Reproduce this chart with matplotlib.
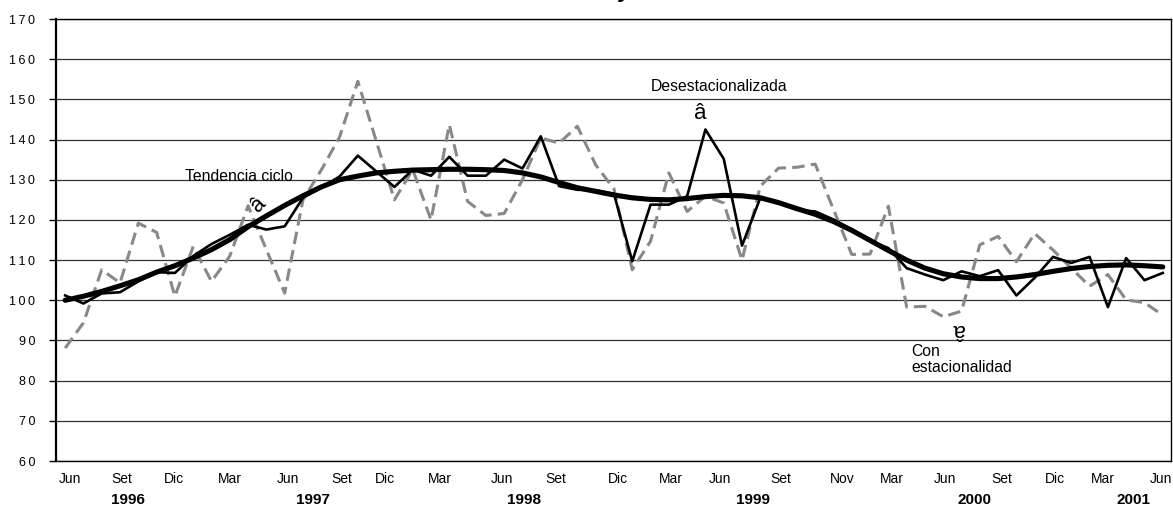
import numpy as np
import matplotlib
matplotlib.use("Agg")
from matplotlib import pyplot as plt
from matplotlib.ticker import FuncFormatter
import matplotlib.transforms as mtransforms

plt.rcParams['font.family'] = ['Liberation Sans', 'DejaVu Sans']
plt.rcParams['lines.scale_dashes'] = False

# serie mensual jun-1996 .. jun-2001
con_estacionalidad = [
    88.1, 94.4, 107.6, 104.3, 119.2, 116.9, 101.0, 113.4, 104.7, 111.0,
    123.5, 112.6, 101.8, 125.0, 132.4, 140.6, 154.5, 139.7, 125.0, 132.5,
    120.0, 143.7, 124.6, 121.1, 121.6, 130.0, 140.4, 139.1, 143.3, 133.7,
    127.7, 107.6, 114.7, 131.7, 122.1, 125.9, 124.2, 110.0, 128.4, 132.9,
    133.1, 133.9, 122.6, 111.4, 111.5, 123.4, 98.3, 98.5, 95.9, 97.3,
    113.8, 115.9, 109.6, 116.6, 112.5, 108.0, 103.5, 106.4, 100.1, 99.4,
    96.3]
desestacionalizada = [
    101.2, 99.2, 101.7, 102.0, 104.7, 107.0, 106.8, 111.0, 114.0, 116.3,
    118.8, 117.6, 118.4, 125.5, 128.0, 130.8, 136.0, 132.1, 128.2, 132.5,
    131.0, 135.7, 131.0, 131.0, 135.0, 132.8, 140.8, 128.4, 127.5, 127.4,
    126.5, 109.7, 123.8, 123.8, 125.9, 142.5, 135.2, 113.6, 125.5, 124.2,
    122.5, 122.1, 120.1, 117.6, 114.7, 113.0, 108.0, 106.4, 105.0, 107.2,
    106.0, 107.5, 101.2, 105.6, 110.8, 109.3, 110.8, 98.3, 110.5, 105.0,
    106.8]
tendencia_ciclo = [
    100.0, 101.0, 102.2, 103.6, 105.1, 107.0, 108.6, 110.5, 112.6, 115.1,
    118.3, 121.0, 123.6, 126.0, 128.2, 130.0, 130.9, 131.7, 132.1, 132.4,
    132.5, 132.6, 132.6, 132.5, 132.3, 131.7, 130.7, 129.3, 128.0, 127.1,
    126.2, 125.5, 125.1, 125.0, 125.3, 125.8, 126.1, 126.0, 125.5, 124.3,
    122.8, 121.4, 119.6, 117.4, 114.9, 112.4, 110.0, 108.0, 106.6, 105.8,
    105.4, 105.4, 105.8, 106.4, 107.2, 107.9, 108.4, 108.7, 108.8, 108.6,
    108.3]

meses = ['Jun', 'Set', 'Dic', 'Mar', 'Jun', 'Set', 'Dic', 'Mar', 'Jun', 'Set',
         'Dic', 'Mar', 'Jun', 'Set', 'Nov', 'Mar', 'Jun', 'Set', 'Dic', 'Mar', 'Jun']
pos_meses = [0.27, 3.1, 5.96, 9.0, 12.2, 15.1, 17.5, 20.5, 23.9, 26.8,
             30.2, 33.1, 35.8, 39.1, 42.5, 45.2, 48.1, 51.2, 54.1, 56.7, 59.9]
anios = ['1996', '1997', '1998', '1999', '2000', '2001']
pos_anios = [3.44, 13.55, 25.1, 37.6, 49.7, 58.4]

x = np.arange(len(con_estacionalidad))

fig = plt.figure(figsize=(11.73, 5.08), dpi=100)
ax = fig.add_axes([56/1173, 1-461/508, (1171-56)/1173, (461-19)/508])

ax.plot(x, con_estacionalidad, color='#888888', lw=2.2, dashes=(9, 4.5))
ax.plot(x, desestacionalizada, color='black', lw=1.9)
ax.plot(x, tendencia_ciclo, color='black', lw=3.7, solid_capstyle='round')

ax.set_xlim(-0.5, 60.45)
ax.set_ylim(60, 170)
ax.set_yticks(np.arange(60, 171, 10))
ax.yaxis.set_major_formatter(FuncFormatter(lambda v, p: '\u2009'.join(str(int(v)))))
ax.grid(axis='y', color='#333333', lw=0.9)
ax.set_axisbelow(True)

ax.set_xticks(pos_meses)
ax.set_xticklabels(meses)
ax.tick_params(axis='x', length=0, pad=8, labelsize=10)
ax.tick_params(axis='y', length=5, width=1, pad=10, labelsize=9)

for s in ax.spines.values():
    s.set_color('black')
    s.set_linewidth(1.0)
ax.spines['left'].set_linewidth(1.6)

trans = mtransforms.blended_transform_factory(ax.transData, ax.transAxes)
for p, a in zip(pos_anios, anios):
    ax.text(p, -0.088, a, transform=trans, ha='center', va='center',
            fontsize=11, fontweight='bold')

# rotulos de las series
ax.text(6.56, 129.6, 'Tendencia ciclo', fontsize=11.3, va='baseline', ha='left')
ax.text(10.55, 123.8, 'â', fontsize=16, rotation=45, ha='center', va='center')
ax.text(32.0, 152.2, 'Desestacionalizada', fontsize=11.3, va='baseline', ha='left')
ax.text(34.7, 146.6, 'â', fontsize=16, ha='center', va='center')
ax.text(46.27, 89.2, 'Con\nestacionalidad', fontsize=11.3, va='top', ha='left',
        linespacing=1.15)
ax.text(48.8, 92.7, 'â', fontsize=16, rotation=180, ha='center', va='center')

fig.text(623/1173, 1 + 3/508, 'y', fontsize=17, fontweight='bold',
         ha='center', va='baseline')

fig.savefig('out.png', dpi=100)
